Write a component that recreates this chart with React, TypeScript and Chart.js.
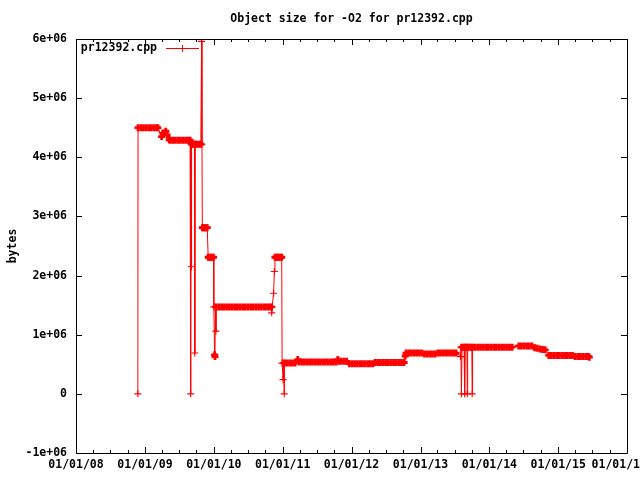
import React, { useEffect, useRef } from 'react';
import { Chart, registerables } from 'chart.js';

Chart.register(...registerables);

const TITLE = 'Object size for -O2 for pr12392.cpp';
const SERIES_LABEL = 'pr12392.cpp';
const Y_TITLE = 'bytes';
const yearTicks = [2008, 2009, 2010, 2011, 2012, 2013, 2014, 2015, 2016];
const yTicks = [-1e6, 0, 1e6, 2e6, 3e6, 4e6, 5e6, 6e6];

// [date, bytes]
const points2008_2009: [string, number][] = [
  ['2008-11-24', 0], ['2008-11-25', 4.5e6], ['2008-12-09', 4.5e6], ['2008-12-23', 4.5e6],
  ['2009-01-06', 4.5e6], ['2009-01-20', 4.5e6], ['2009-02-03', 4.5e6], ['2009-02-17', 4.5e6],
  ['2009-03-03', 4.5e6], ['2009-03-10', 4.5e6], ['2009-03-30', 4.35e6], ['2009-04-05', 4.41e6],
  ['2009-04-21', 4.44e6], ['2009-04-28', 4.38e6], ['2009-05-09', 4.3e6], ['2009-05-13', 4.29e6],
  ['2009-05-27', 4.29e6], ['2009-06-10', 4.29e6], ['2009-06-24', 4.29e6], ['2009-07-08', 4.29e6],
  ['2009-07-22', 4.29e6], ['2009-08-05', 4.29e6], ['2009-08-19', 4.29e6], ['2009-08-28', 4.29e6],
  ['2009-08-31', 0], ['2009-09-02', 4.22e6], ['2009-09-04', 2.15e6], ['2009-09-06', 4.22e6],
  ['2009-09-14', 4.22e6], ['2009-09-20', 4.22e6], ['2009-09-22', 0.69e6], ['2009-09-24', 4.22e6],
  ['2009-10-04', 4.22e6], ['2009-10-14', 4.22e6], ['2009-10-24', 4.22e6], ['2009-10-28', 5.96e6],
  ['2009-10-30', 4.22e6], ['2009-11-01', 2.81e6], ['2009-11-08', 2.81e6], ['2009-11-15', 2.81e6],
  ['2009-11-22', 2.81e6], ['2009-11-27', 2.81e6], ['2009-12-02', 2.31e6], ['2009-12-09', 2.31e6],
  ['2009-12-16', 2.31e6], ['2009-12-23', 2.31e6], ['2009-12-30', 2.31e6],
];

const points2010: [string, number][] = [
  ['2010-01-01', 1.47e6], ['2010-01-05', 0.66e6], ['2010-01-07', 0.63e6], ['2010-01-09', 1.47e6],
  ['2010-01-12', 1.06e6], ['2010-01-14', 1.47e6], ['2010-01-28', 1.47e6], ['2010-02-11', 1.47e6],
  ['2010-02-25', 1.47e6], ['2010-03-11', 1.47e6], ['2010-03-25', 1.47e6], ['2010-04-08', 1.47e6],
  ['2010-04-22', 1.47e6], ['2010-05-06', 1.47e6], ['2010-05-20', 1.47e6], ['2010-06-03', 1.47e6],
  ['2010-06-17', 1.47e6], ['2010-07-01', 1.47e6], ['2010-07-15', 1.47e6], ['2010-07-29', 1.47e6],
  ['2010-08-12', 1.47e6], ['2010-08-26', 1.47e6], ['2010-09-09', 1.47e6], ['2010-09-23', 1.47e6],
  ['2010-10-07', 1.47e6], ['2010-10-21', 1.47e6], ['2010-11-01', 1.47e6], ['2010-11-04', 1.37e6],
  ['2010-11-06', 1.47e6], ['2010-11-14', 1.7e6], ['2010-11-18', 2.07e6], ['2010-11-21', 2.31e6],
  ['2010-11-28', 2.31e6], ['2010-12-05', 2.31e6], ['2010-12-12', 2.31e6], ['2010-12-20', 2.31e6],
  ['2010-12-27', 2.31e6], ['2010-12-29', 0.52e6],
];

const points2011_2012: [string, number][] = [
  ['2011-01-03', 0.24e6], ['2011-01-05', 0.52e6], ['2011-01-09', 0], ['2011-01-11', 0.52e6],
  ['2011-01-25', 0.52e6], ['2011-02-08', 0.52e6], ['2011-02-22', 0.52e6], ['2011-03-08', 0.52e6],
  ['2011-03-22', 0.58e6], ['2011-03-29', 0.54e6], ['2011-04-12', 0.54e6], ['2011-04-26', 0.54e6],
  ['2011-05-10', 0.54e6], ['2011-05-24', 0.54e6], ['2011-06-07', 0.54e6], ['2011-06-21', 0.54e6],
  ['2011-07-05', 0.54e6], ['2011-07-19', 0.54e6], ['2011-08-02', 0.54e6], ['2011-08-16', 0.54e6],
  ['2011-08-30', 0.54e6], ['2011-09-13', 0.54e6], ['2011-09-27', 0.54e6], ['2011-10-11', 0.54e6],
  ['2011-10-20', 0.58e6], ['2011-10-25', 0.55e6], ['2011-11-08', 0.55e6], ['2011-11-22', 0.55e6],
  ['2011-12-06', 0.55e6], ['2011-12-20', 0.51e6], ['2012-01-03', 0.51e6], ['2012-01-17', 0.51e6],
  ['2012-01-31', 0.51e6], ['2012-02-14', 0.51e6], ['2012-02-28', 0.51e6], ['2012-03-13', 0.51e6],
  ['2012-03-27', 0.51e6], ['2012-04-10', 0.51e6], ['2012-04-24', 0.51e6], ['2012-05-05', 0.53e6],
  ['2012-05-19', 0.53e6], ['2012-06-02', 0.53e6], ['2012-06-16', 0.53e6], ['2012-06-30', 0.53e6],
  ['2012-07-14', 0.53e6], ['2012-07-28', 0.53e6], ['2012-08-11', 0.53e6], ['2012-08-25', 0.53e6],
  ['2012-09-08', 0.53e6], ['2012-09-22', 0.53e6], ['2012-10-06', 0.53e6], ['2012-10-12', 0.64e6],
  ['2012-10-16', 0.69e6], ['2012-10-30', 0.69e6], ['2012-11-13', 0.69e6], ['2012-11-27', 0.69e6],
  ['2012-12-11', 0.69e6], ['2012-12-25', 0.69e6],
];

const points2013_2015: [string, number][] = [
  ['2013-01-08', 0.69e6], ['2013-01-22', 0.675e6], ['2013-02-05', 0.675e6], ['2013-02-19', 0.675e6],
  ['2013-03-05', 0.675e6], ['2013-03-19', 0.675e6], ['2013-04-02', 0.69e6], ['2013-04-16', 0.69e6],
  ['2013-04-30', 0.69e6], ['2013-05-14', 0.69e6], ['2013-05-28', 0.69e6], ['2013-06-11', 0.69e6],
  ['2013-06-25', 0.69e6], ['2013-07-09', 0.69e6], ['2013-08-01', 0.63e6], ['2013-08-03', 0.79e6],
  ['2013-08-06', 0], ['2013-08-09', 0.79e6], ['2013-08-20', 0.79e6], ['2013-08-23', 0],
  ['2013-08-26', 0.79e6], ['2013-09-04', 0.79e6], ['2013-09-06', 0], ['2013-09-08', 0.79e6],
  ['2013-09-19', 0.79e6], ['2013-09-30', 0.79e6], ['2013-10-02', 0], ['2013-10-04', 0.79e6],
  ['2013-10-18', 0.79e6], ['2013-11-01', 0.79e6], ['2013-11-15', 0.79e6], ['2013-11-29', 0.79e6],
  ['2013-12-13', 0.79e6], ['2013-12-27', 0.79e6], ['2014-01-10', 0.79e6], ['2014-01-24', 0.79e6],
  ['2014-02-07', 0.79e6], ['2014-02-21', 0.79e6], ['2014-03-07', 0.79e6], ['2014-03-21', 0.79e6],
  ['2014-04-04', 0.79e6], ['2014-04-18', 0.79e6], ['2014-05-02', 0.79e6], ['2014-06-06', 0.81e6],
  ['2014-06-20', 0.81e6], ['2014-07-04', 0.81e6], ['2014-07-18', 0.81e6], ['2014-08-01', 0.81e6],
  ['2014-08-15', 0.81e6], ['2014-08-29', 0.78e6], ['2014-09-12', 0.77e6], ['2014-09-26', 0.76e6],
  ['2014-10-10', 0.75e6], ['2014-10-24', 0.745e6], ['2014-11-12', 0.65e6], ['2014-11-26', 0.65e6],
  ['2014-12-10', 0.65e6], ['2014-12-24', 0.65e6], ['2015-01-07', 0.65e6], ['2015-01-21', 0.65e6],
  ['2015-02-04', 0.65e6], ['2015-02-18', 0.65e6], ['2015-03-04', 0.65e6], ['2015-03-18', 0.65e6],
  ['2015-04-01', 0.63e6], ['2015-04-15', 0.63e6], ['2015-04-29', 0.63e6], ['2015-05-13', 0.63e6],
  ['2015-05-27', 0.63e6], ['2015-06-10', 0.63e6], ['2015-06-15', 0.62e6],
];

const FONT_FAMILY = "'DejaVu Sans Mono', 'Liberation Mono', monospace";
const FONT = `bold 11.5px ${FONT_FAMILY}`;
const DAY = 86400000;

function ts(s: string): number {
  const [y, m, d] = s.split('-').map(Number);
  return Date.UTC(y, m - 1, d);
}

function fmtX(y: number): string {
  return '01/01/' + String(y).slice(2);
}

function fmtY(v: number): string {
  if (v === 0) return '0';
  const sign = v < 0 ? '-' : '';
  const a = Math.abs(v);
  const e = Math.floor(Math.log10(a) + 1e-9);
  const m = Math.round(a / Math.pow(10, e));
  return sign + m + 'e+' + String(e).padStart(2, '0');
}

const framePlugin = {
  id: 'gnuFrame',
  afterDatasetsDraw(chart: any) {
    const { ctx, chartArea } = chart;
    const { left, right, top, bottom } = chartArea;
    const xs = chart.scales.x;
    const ys = chart.scales.y;
    ctx.save();
    ctx.strokeStyle = '#000';
    ctx.lineWidth = 1;
    ctx.beginPath();
    ctx.rect(left + 0.5, top + 0.5, right - left, bottom - top);
    yTicks.forEach((v) => {
      const y = Math.round(ys.getPixelForValue(v)) + 0.5;
      ctx.moveTo(left, y); ctx.lineTo(left + 6, y);
      ctx.moveTo(right, y); ctx.lineTo(right - 6, y);
    });
    yearTicks.forEach((yr, i) => {
      const x = Math.round(xs.getPixelForValue(Date.UTC(yr, 0, 1))) + 0.5;
      ctx.moveTo(x, bottom); ctx.lineTo(x, bottom - 6);
      ctx.moveTo(x, top); ctx.lineTo(x, top + 6);
      if (i < yearTicks.length - 1) {
        [3, 6, 9].forEach((mo) => {
          const mx = Math.round(xs.getPixelForValue(Date.UTC(yr, mo, 1))) + 0.5;
          ctx.moveTo(mx, bottom); ctx.lineTo(mx, bottom - 3);
          ctx.moveTo(mx, top); ctx.lineTo(mx, top + 3);
        });
      }
    });
    ctx.stroke();

    // x tick labels (gnuplot style; the last one is cut by the canvas edge)
    ctx.font = FONT;
    ctx.fillStyle = '#000';
    ctx.textBaseline = 'middle';
    const W = chart.width;
    yearTicks.forEach((yr) => {
      const label = fmtX(yr);
      const x = xs.getPixelForValue(Date.UTC(yr, 0, 1));
      const w = ctx.measureText(label).width;
      const cw = w / label.length;
      let start = x - w / 2;
      if (start + w > W) start = W - (label.length - 1) * cw;
      ctx.textAlign = 'left';
      ctx.fillText(label, start, bottom + 12.5);
    });

    // key (legend) inside the plot, top-left
    ctx.textAlign = 'right';
    ctx.fillText(SERIES_LABEL, 157, 48);
    ctx.strokeStyle = 'red';
    ctx.beginPath();
    ctx.moveTo(166, 48.5); ctx.lineTo(199, 48.5);
    ctx.moveTo(182.5, 45); ctx.lineTo(182.5, 52);
    ctx.stroke();
    ctx.restore();
  },
};

export default function App() {
  const canvasRef = useRef<HTMLCanvasElement | null>(null);

  useEffect(() => {
    if (!canvasRef.current) return;
    const all = [...points2008_2009, ...points2010, ...points2011_2012, ...points2013_2015];
    const data = all.map(([d, v]) => ({ x: ts(d), y: v }));

    // points that sit in a run of near-identical values are drawn heavier,
    // so that the run reads as a solid band as in the original plot
    const inRun = (i: number) => {
      const p = data[i];
      const near = (q: any) =>
        q && Math.abs(q.x - p.x) <= 16 * DAY && Math.abs(q.y - p.y) <= 0.06e6;
      return near(data[i - 1]) || near(data[i + 1]);
    };

    const chart = new Chart(canvasRef.current, {
      type: 'line',
      data: {
        datasets: [
          {
            label: SERIES_LABEL,
            data,
            borderColor: 'red',
            borderWidth: 1,
            pointStyle: 'cross',
            pointRadius: 3.5,
            pointBorderWidth: (c: any) => (inRun(c.dataIndex) ? 2.8 : 1.1),
            pointBorderColor: 'red',
            pointBackgroundColor: 'red',
            tension: 0,
            fill: false,
          },
        ],
      },
      options: {
        responsive: false,
        animation: false,
        events: [],
        layout: { padding: { left: 0, right: 13, top: 0, bottom: 0 } },
        font: { family: FONT_FAMILY, size: 11.5, weight: 'bold' },
        color: '#000',
        plugins: {
          legend: { display: false },
          tooltip: { enabled: false },
          title: {
            display: true,
            text: TITLE,
            fullSize: false,
            color: '#000',
            font: { family: FONT_FAMILY, size: 11.5, weight: 'bold', lineHeight: 1.2 },
            padding: { top: 12, bottom: 13.2 },
          },
        },
        scales: {
          x: {
            type: 'linear',
            min: Date.UTC(2008, 0, 1),
            max: Date.UTC(2016, 0, 1),
            afterBuildTicks: (s: any) => {
              s.ticks = yearTicks.map((y) => ({ value: Date.UTC(y, 0, 1) }));
            },
            afterFit: (s: any) => {
              s.height = 27;
              s.paddingLeft = 0;
              s.paddingRight = 0;
            },
            ticks: { display: false },
            grid: { display: false, drawTicks: false },
            border: { display: false },
          },
          y: {
            type: 'linear',
            min: -1e6,
            max: 6e6,
            afterBuildTicks: (s: any) => {
              s.ticks = yTicks.map((v) => ({ value: v }));
            },
            afterFit: (s: any) => {
              s.width = 76;
            },
            ticks: {
              padding: 9,
              color: '#000',
              font: { family: FONT_FAMILY, size: 11.5, weight: 'bold' },
              callback: (v: any) => fmtY(Number(v)),
            },
            grid: { display: false, drawTicks: false },
            border: { display: false },
            title: {
              display: true,
              text: Y_TITLE,
              color: '#000',
              font: { family: FONT_FAMILY, size: 11.5, weight: 'bold', lineHeight: 1.2 },
              padding: { top: 6, bottom: 0 },
            },
          },
        },
      },
      plugins: [framePlugin],
    } as any);

    return () => chart.destroy();
  }, []);

  return (
    <div style={{ position: 'absolute', left: 0, top: 0, width: 640, height: 480, background: '#fff' }}>
      <canvas ref={canvasRef} width={640} height={480} style={{ display: 'block' }} />
    </div>
  );
}
